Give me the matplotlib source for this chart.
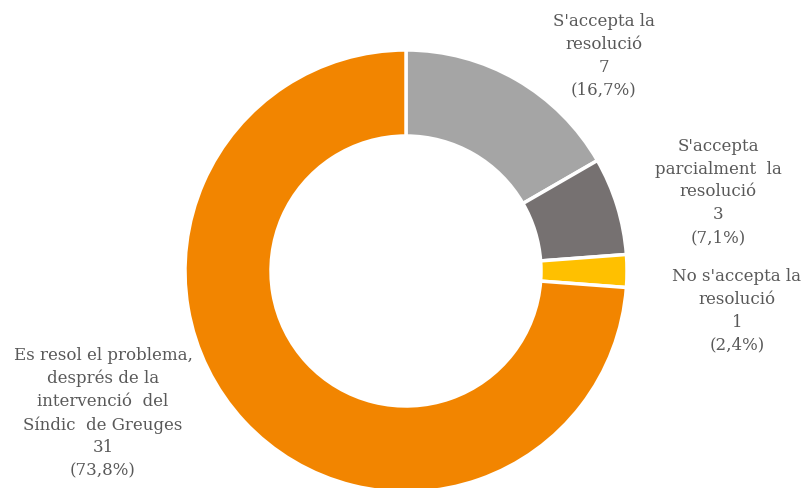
import matplotlib.pyplot as plt

# data
categories = [
    "S'accepta la\nresolució",
    "S'accepta\nparcialment  la\nresolució",
    "No s'accepta la\nresolució",
    "Es resol el problema,\ndesprés de la\nintervenció  del\nSíndic  de Greuges",
]
values = [7, 3, 1, 31]
colors = ["#A5A5A5", "#767171", "#FFC000", "#F28500"]

# label anchor points (pixel coords, origin bottom-left)
label_xy = [(604, 432), (718, 296), (737, 177), (103, 75)]

fig = plt.figure(figsize=(8.05, 4.88), dpi=100)
ax = fig.add_axes([0, 0, 1, 1])

ax.pie(values, colors=colors, startangle=90, counterclock=False,
       center=(406, 217), radius=221,
       wedgeprops=dict(width=86, edgecolor="white", linewidth=2.5))

# pie resets the limits, so set them afterwards
ax.set_xlim(0, 805)
ax.set_ylim(0, 488)
ax.set_aspect("equal")
ax.axis("off")

total = sum(values)
for cat, v, (x, y) in zip(categories, values, label_xy):
    pct = f"{100 * v / total:.1f}".replace(".", ",")
    ax.text(x, y, f"{cat}\n{v}\n({pct}%)", ha="center", va="center",
            fontsize=12, family="DejaVu Serif", color="#595959",
            linespacing=1.45)

fig.savefig("out.png", dpi=100)
